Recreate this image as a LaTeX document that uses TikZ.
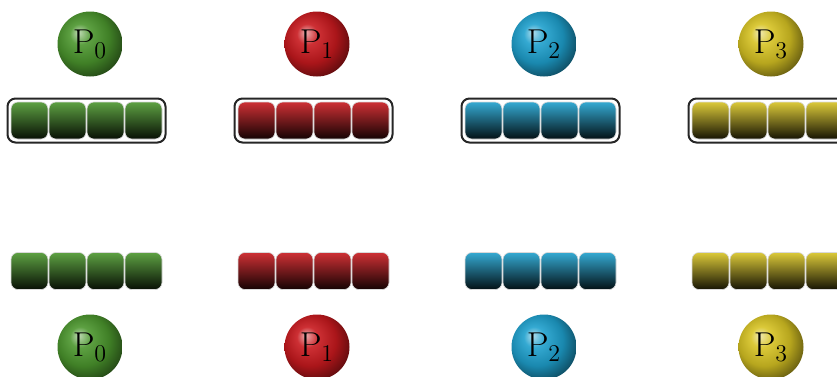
\documentclass[tikz,border=0pt]{standalone}
\usepackage{tikz}
\usetikzlibrary{fit}
\definecolor{pzero}{RGB}{75,150,45}
\definecolor{pone}{RGB}{200,25,30}
\definecolor{ptwo}{RGB}{30,160,205}
\definecolor{pthree}{RGB}{215,195,35}
\colorlet{procball}{pzero}
\pgfdeclareradialshading[procball]{procshade}{\pgfpoint{-9bp}{9bp}}{%
  color(0bp)=(procball!35!white); color(8bp)=(procball!90!white);
  color(20bp)=(procball!85!black); color(30bp)=(procball!50!black);
  color(50bp)=(procball!25!black)}

\begin{document}
\begin{tikzpicture}[x=0.5pt, y=-0.5pt, font=\LARGE,
  proc/.style={circle, minimum size=32.5pt, inner sep=0pt,
               /utils/exec={\colorlet{procball}{#1}}, shading=procshade},
  cell/.style={rectangle, rounded corners=3.5pt, draw=white!85!black, line width=0.3pt,
               minimum width=18.5pt, minimum height=18.5pt, inner sep=0pt,
               top color=#1!90!white, middle color=#1!80!black, bottom color=black!90!#1},
  buf/.style={rectangle, rounded corners=4pt, draw=black!85, line width=1pt, inner sep=1.6pt}]
  \useasboundingbox (0,0) rectangle (837,376);
  \foreach \i/\col in {0/pzero,1/pone,2/ptwo,3/pthree}{
    % process on top, with its buffer
    \node[proc=\col] (ptop\i) at (90+227*\i,44) {$\mathrm{P}_\i$};
    \foreach \k in {0,...,3}{
      \node[cell=\col] (t\i-\k) at (29.5+38*\k+227*\i,120.5) {};
      \node[cell=\col] (b\i-\k) at (29.5+38*\k+227*\i,271) {};
    }
    \node[buf, fit=(t\i-0)(t\i-3)] (buf\i) {};
    % process below
    \node[proc=\col] (pbot\i) at (90+227*\i,347) {$\mathrm{P}_\i$};
  }
\end{tikzpicture}
\end{document}
